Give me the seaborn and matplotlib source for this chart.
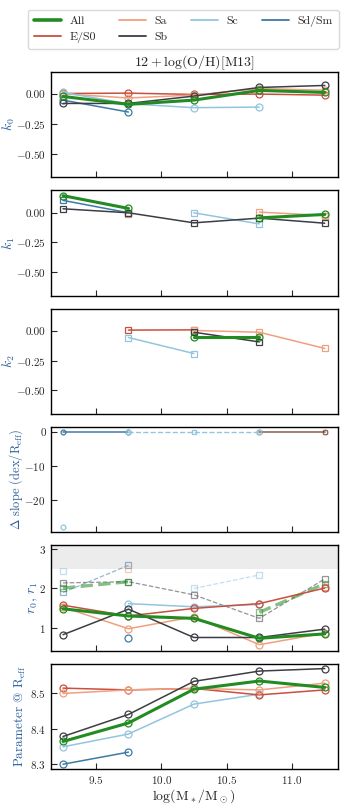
import numpy as np
import pandas as pd
import matplotlib
matplotlib.use("Agg")
import matplotlib.pyplot as plt
from matplotlib.lines import Line2D
import seaborn as sns

nan = np.nan

# stellar mass bins
mass = [9.25, 9.75, 10.25, 10.75, 11.25]
types = ['All', 'E/S0', 'Sa', 'Sb', 'Sc', 'Sd/Sm']
colors = {'All': '#228b22', 'E/S0': '#c94f3e', 'Sa': '#f0a07e',
          'Sb': '#3d3d45', 'Sc': '#92c5de', 'Sd/Sm': '#3f7aa3'}

# k0
k0 = {'All':   [-0.017, -0.084, -0.048, 0.034, 0.017],
      'E/S0':  [0.008, 0.011, 0.0, 0.003, -0.006],
      'Sa':    [0.005, -0.03, -0.005, 0.05, 0.036],
      'Sb':    [-0.076, -0.076, -0.014, 0.059, 0.076],
      'Sc':    [0.017, -0.079, -0.112, -0.107, nan],
      'Sd/Sm': [-0.048, -0.149, nan, nan, nan]}
# k1
k1 = {'All':   [0.145, 0.037, nan, -0.043, -0.014],
      'E/S0':  [nan, nan, nan, nan, -0.025],
      'Sa':    [nan, -0.008, nan, 0.006, -0.023],
      'Sb':    [0.034, 0.0, -0.085, -0.045, -0.088],
      'Sc':    [nan, nan, 0.0, -0.094, nan],
      'Sd/Sm': [0.105, 0.0, nan, nan, nan]}
# k2
k2 = {'All':   [nan, nan, -0.046, -0.046, nan],
      'E/S0':  [nan, 0.009, 0.011, nan, nan],
      'Sa':    [nan, nan, 0.006, -0.009, -0.146],
      'Sb':    [nan, nan, -0.009, -0.091, nan],
      'Sc':    [nan, -0.054, -0.189, nan, nan],
      'Sd/Sm': [nan, nan, nan, nan, nan]}
# delta slope
dslope_sdsm = [0.0, 0.0, nan, nan, nan]
dslope_sc = [nan, 0.0, 0.0, 0.0, nan]
dslope_sc_out = [-28.2, nan, nan, nan, nan]
dslope_sa = [nan, nan, nan, 0.0, 0.0]
dslope_sb = [nan, nan, nan, 0.0, 0.0]
# r0 (solid) and r1 (dashed)
r0 = {'All':   [1.49, 1.31, 1.25, 0.75, 0.86],
      'E/S0':  [1.58, 1.31, 1.50, 1.62, 2.01],
      'Sa':    [1.53, 0.99, 1.29, 0.59, 0.88],
      'Sb':    [0.84, 1.48, 0.77, 0.77, 0.98],
      'Sc':    [nan, 1.62, 1.54, 1.60, nan],
      'Sd/Sm': [nan, 0.76, nan, nan, nan]}
r1 = {'All':   [2.01, 2.17, nan, 1.40, 2.12],
      'E/S0':  [nan, nan, nan, nan, 2.03],
      'Sa':    [nan, 2.48, nan, nan, 2.00],
      'Sb':    [2.14, 2.17, 1.84, 1.25, 2.24],
      'Sc':    [2.45, nan, 2.00, 2.34, nan],
      'Sd/Sm': [1.90, 2.58, nan, nan, nan]}
# parameter at R_eff
preff = {'All':   [8.364, 8.416, 8.511, 8.534, 8.516],
         'E/S0':  [8.514, 8.509, 8.513, 8.495, 8.509],
         'Sa':    [8.499, 8.509, 8.513, 8.509, 8.528],
         'Sb':    [8.378, 8.440, 8.533, 8.562, 8.569],
         'Sc':    [8.349, 8.385, 8.469, 8.497, nan],
         'Sd/Sm': [8.300, 8.334, nan, nan, nan]}

sns.set_style('ticks')
plt.rcParams['font.family'] = ['cmr10', 'DejaVu Serif']
plt.rcParams['mathtext.fontset'] = 'cm'
plt.rcParams['axes.formatter.use_mathtext'] = True
plt.rcParams['xtick.direction'] = 'in'
plt.rcParams['ytick.direction'] = 'in'
plt.rcParams['axes.linewidth'] = 1.0
plt.rcParams['axes.edgecolor'] = 'black'


def draw(ax, ys, color, marker='o', ls='-', lw=1.1, alpha=1.0, ms=5.0, mfc='none'):
    df = pd.DataFrame({'x': mass, 'y': ys})
    df['seg'] = df['y'].isna().cumsum()
    df = df.dropna()
    if df.empty:
        return
    sns.lineplot(data=df, x='x', y='y', units='seg', estimator=None, ax=ax,
                 color=color, marker=marker, markerfacecolor=mfc,
                 markeredgecolor=color, markeredgewidth=0.9, markersize=ms,
                 linestyle=ls, linewidth=lw, alpha=alpha, legend=False)


def width(t):
    return 2.2 if t == 'All' else 1.1


fig, axes = plt.subplots(6, 1, figsize=(3.49, 8.06), sharex=True)
fig.subplots_adjust(left=0.145, right=0.968, top=0.9107, bottom=0.0459, hspace=0.125)

ylab_col = '#2a5f9e'

# k panels
for ax, d, name, mk in zip(axes[:3], [k0, k1, k2], ['$k_0$', '$k_1$', '$k_2$'], ['o', 's', 's']):
    order = ['E/S0', 'Sa', 'Sd/Sm', 'Sc', 'Sb', 'All']
    for t in order:
        m = 'o' if t == 'All' else mk
        draw(ax, d[t], colors[t], marker=m, lw=width(t))
    ax.set_ylim(-0.7, 0.19)
    ax.set_yticks([0.0, -0.25, -0.5])
    ax.set_yticklabels(['0.00', '$-0.25$', '$-0.50$'])
    ax.set_ylabel(name, color=ylab_col, fontsize=10)
    ax.yaxis.set_label_coords(-0.117, 0.5)

# delta slope
ax = axes[3]
draw(ax, dslope_sa, colors['Sa'], marker='o', ms=3.5)
draw(ax, dslope_sb, colors['Sb'], marker='s', ms=3.5, alpha=0.55)
draw(ax, dslope_sdsm, colors['Sd/Sm'], marker='o', ms=3.5)
draw(ax, dslope_sc, colors['Sc'], marker='s', ms=3.5, lw=1.0, ls='--')
draw(ax, dslope_sc_out, colors['Sc'], marker='o', ms=3.5)
ax.set_yticks([0, -10, -20])
ax.set_yticklabels(['0', '$-10$', '$-20$'])
ax.set_ylabel(r'$\Delta$ slope (dex/R$_{\rm eff}$)', color=ylab_col, fontsize=9)
ax.yaxis.set_label_coords(-0.089, 0.5)

# r0, r1
ax = axes[4]
ax.axhspan(2.5, 3.2, color='#ececec', zorder=0, lw=0)
for t in ['Sd/Sm', 'Sc', 'Sa', 'E/S0', 'Sb', 'All']:
    draw(ax, r1[t], colors[t], marker='s', ls='--', lw=2.4 if t == 'All' else 0.9, alpha=0.55)
for t in ['Sd/Sm', 'Sc', 'Sa', 'E/S0', 'Sb', 'All']:
    draw(ax, r0[t], colors[t], marker='o', lw=width(t))
ax.set_ylim(0.44, 3.08)
ax.set_yticks([1, 2, 3])
ax.set_ylabel('$r_0$, $r_1$', color=ylab_col, fontsize=10)
ax.yaxis.set_label_coords(-0.037, 0.5)

# parameter at Reff
ax = axes[5]
for t in ['Sd/Sm', 'Sc', 'E/S0', 'Sa', 'Sb', 'All']:
    draw(ax, preff[t], colors[t], marker='o', lw=width(t))
ax.set_yticks([8.3, 8.4, 8.5])
ax.set_ylabel(r'Parameter @ R$_{\rm eff}$', color=ylab_col, fontsize=9.5)
ax.yaxis.set_label_coords(-0.08, 0.5)

for ax in axes:
    ax.set_xlim(9.155, 11.35)
    ax.set_xticks([9.5, 10.0, 10.5, 11.0])
    ax.tick_params(axis='both', labelsize=8, length=4, width=0.8)
    ax.set_xlabel('')
    for s in ax.spines.values():
        s.set_visible(True)
        s.set_color('black')

axes[5].set_xlabel(r'log(M$_*$/M$_\odot$)', fontsize=10, labelpad=1)
axes[0].set_title(r'$12 + \log({\rm O/H})[{\rm M13}]$', fontsize=10, pad=4)

handles = [Line2D([], [], color=colors[t], lw=2.6 if t == 'All' else 1.3) for t in types]
fig.legend(handles, types, loc='upper center', bbox_to_anchor=(0.525, 0.995), ncol=4,
           fontsize=8.5, handlelength=2.3, handletextpad=0.7, columnspacing=2.0,
           frameon=True, edgecolor='#d0d0d0', borderpad=0.5, labelspacing=0.45)

fig.savefig('out.png', dpi=100)
